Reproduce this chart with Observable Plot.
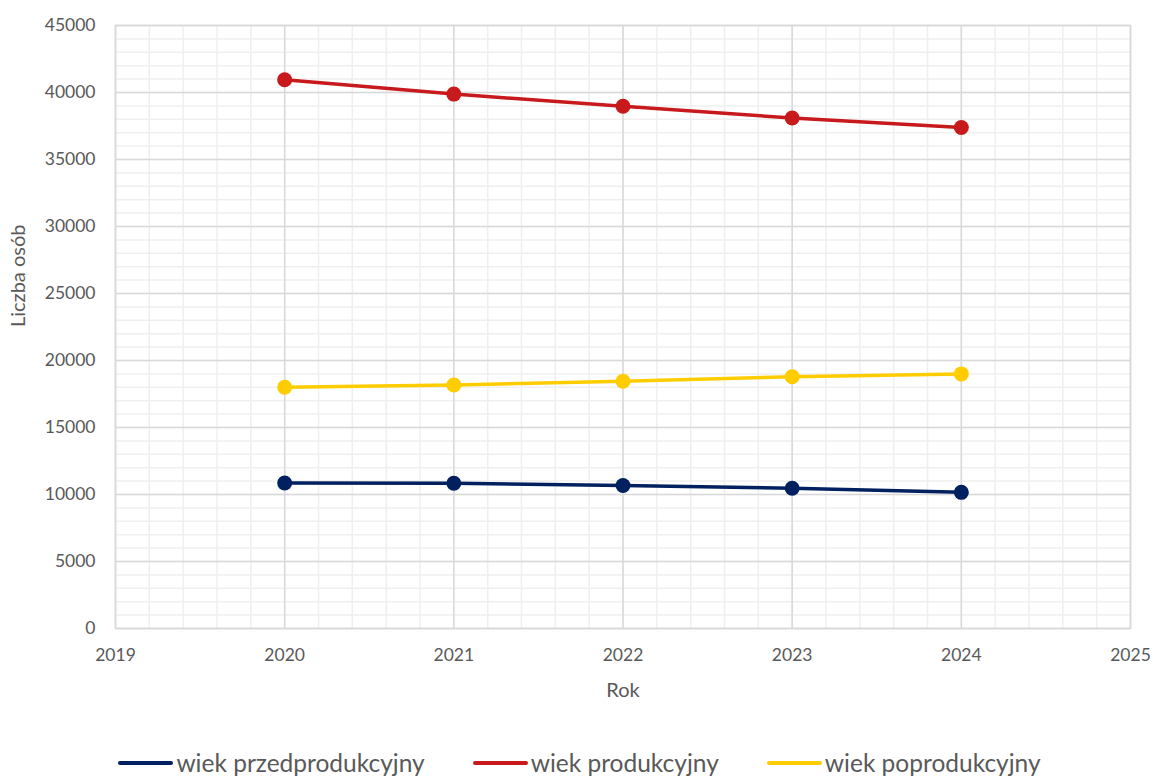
<!DOCTYPE html>
<html>
<head>
<meta charset="utf-8">
<script src="https://cdn.jsdelivr.net/npm/d3@7"></script>
<script src="https://cdn.jsdelivr.net/npm/@observablehq/plot@0.6"></script>
<style>
  body { margin: 0; background: #fff; font-family: Lato, "Open Sans", sans-serif; }
  #chart { width: 1153px; }
  .legend { display: flex; justify-content: center; gap: 48px; height: 31px; align-items: center; font-size: 24.5px; color: #595959; margin-top: 5px; padding-left: 6px; }
  .legend .item { display: flex; align-items: center; }
  .legend .sw { width: 55px; height: 4px; border-radius: 2px; margin-right: 3px; }
</style>
</head>
<body>
<div id="chart"></div>
<script>
const years = [2020, 2021, 2022, 2023, 2024];
const seriesNames = ["wiek przedprodukcyjny", "wiek produkcyjny", "wiek poprodukcyjny"];
const przedprodukcyjny = [10860, 10840, 10670, 10470, 10160];
const produkcyjny = [40950, 39880, 38970, 38100, 37390];
const poprodukcyjny = [18000, 18170, 18450, 18790, 19000];
const colors = ["#002060", "#C8191C", "#FFCC00"];
const xTicks = [2019, 2020, 2021, 2022, 2023, 2024, 2025];
const yTicks = [0, 5000, 10000, 15000, 20000, 25000, 30000, 35000, 40000, 45000];
const xLabel = "Rok";
const yLabel = "Liczba osób";

const values = [przedprodukcyjny, produkcyjny, poprodukcyjny];
const data = [];
seriesNames.forEach((s, i) => years.forEach((y, j) => data.push({series: s, year: y, value: values[i][j]})));

const xMinor = d3.range(2019, 2025.001, 0.2).map(v => Math.round(v * 10) / 10);
const yMinor = d3.range(0, 45001, 1000);

const chart = Plot.plot({
  width: 1153,
  height: 742,
  marginLeft: 115,
  marginRight: 23,
  marginTop: 25,
  marginBottom: 114,
  style: {fontFamily: "Lato, 'Open Sans', sans-serif", fontSize: "17px", color: "#595959", background: "#fff"},
  x: {domain: [2019, 2025]},
  y: {domain: [0, 45000]},
  color: {domain: seriesNames, range: colors},
  marks: [
    Plot.ruleX(xMinor, {stroke: "#efefef", strokeWidth: 1.5}),
    Plot.ruleY(yMinor, {stroke: "#efefef", strokeWidth: 1.5}),
    Plot.ruleX(xTicks, {stroke: "#d9d9d9", strokeWidth: 1.5}),
    Plot.ruleY(yTicks, {stroke: "#d9d9d9", strokeWidth: 1.5}),
    Plot.frame({stroke: "#d9d9d9", strokeWidth: 1.5}),
    Plot.axisX({ticks: xTicks, tickFormat: d => String(d), tickSize: 0, tickPadding: 20, label: null, fontSize: 17.5}),
    Plot.axisY({ticks: yTicks, tickFormat: d => String(d), tickSize: 0, tickPadding: 20, label: null, fontSize: 17.5}),
    Plot.text([xLabel], {frameAnchor: "bottom", lineAnchor: "middle", dy: 62, fontSize: 20, fill: "#595959", text: d => d}),
    Plot.text([yLabel], {frameAnchor: "left", dx: -97, rotate: -90, fontSize: 20, fill: "#595959", text: d => d}),
    Plot.line(data, {x: "year", y: "value", z: "series", stroke: "series", strokeWidth: 3.5}),
    Plot.dot(data, {x: "year", y: "value", fill: "series", r: 7.5})
  ]
});
document.getElementById("chart").appendChild(chart);

const legend = document.createElement("div");
legend.className = "legend";
seriesNames.forEach((s, i) => {
  const item = document.createElement("div");
  item.className = "item";
  item.innerHTML = `<span class="sw" style="background:${colors[i]}"></span><span>${s}</span>`;
  legend.appendChild(item);
});
document.getElementById("chart").appendChild(legend);
</script>
</body>
</html>
